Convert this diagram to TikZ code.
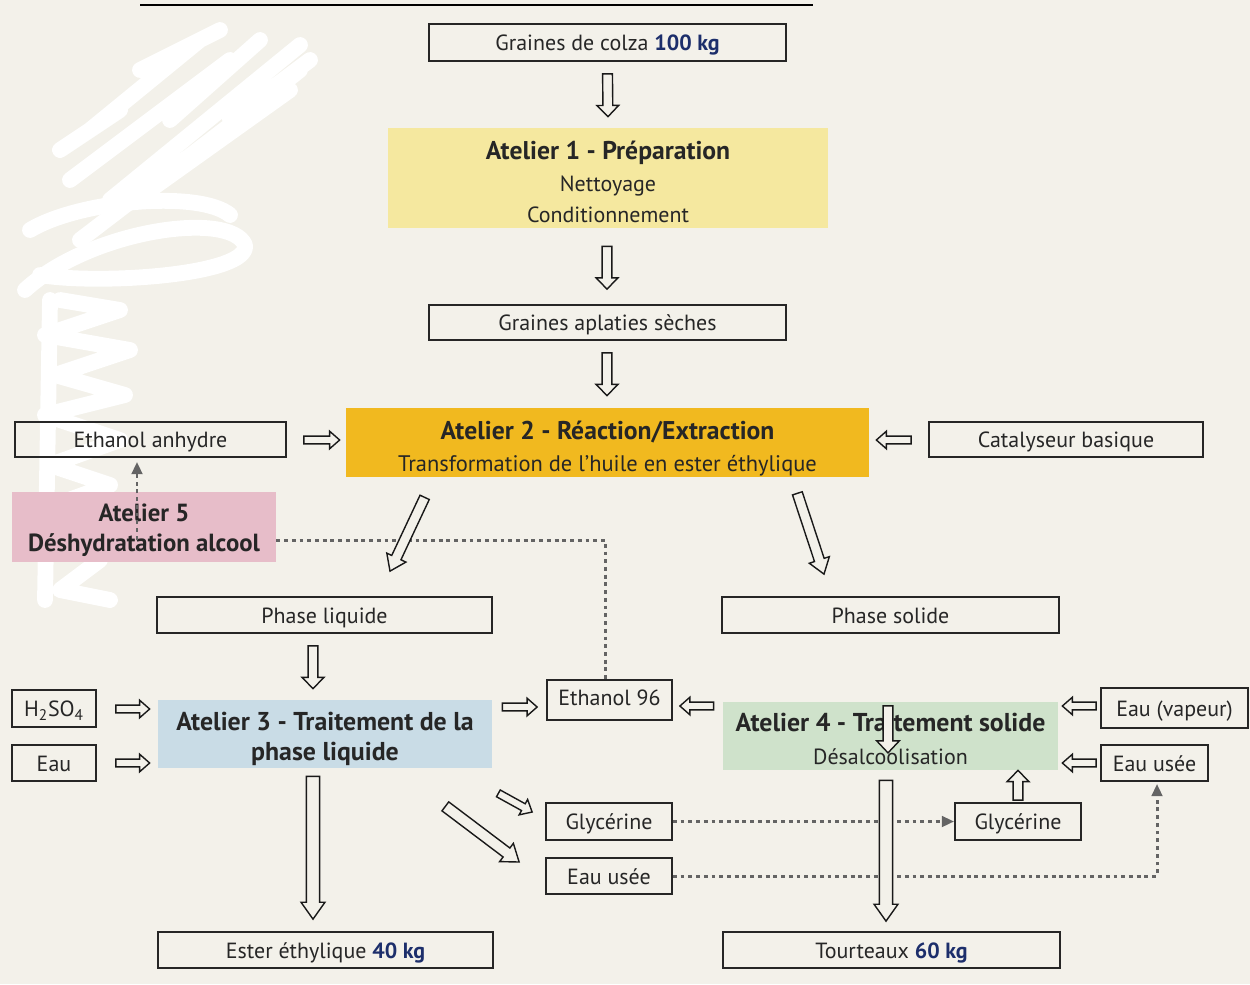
\documentclass[tikz,border=0pt]{standalone}
\usepackage{fontspec}
\setmainfont{PT Sans}
\usetikzlibrary{calc,arrows.meta}
\definecolor{bg}{HTML}{F3F1EA}
\definecolor{aun}{HTML}{F5E89F}
\definecolor{adeux}{HTML}{F1B91F}
\definecolor{atrois}{HTML}{C9DCE6}
\definecolor{aquatre}{HTML}{CFE2CB}
\definecolor{acinq}{HTML}{E7BDC9}
\definecolor{kgblue}{HTML}{1C2E6B}
\definecolor{dotcol}{HTML}{646464}
\def\pu{0.02cm}
\tikzset{
  box/.style={draw=black!85, line width=1pt, inner sep=0pt, text=black!85,
    font=\fontsize{12.5}{14}\selectfont, text height=0.95em, text depth=0pt},
  atel/.style={inner sep=0pt},
  ateltext/.style={inner sep=0pt, align=center, text=black!85},
  hollow/.style={draw=black!90, line width=0.8pt, fill=bg, line join=miter},
  dotl/.style={draw=dotcol, line width=1.7pt, dash pattern=on 2.2pt off 2.2pt},
  dotarr/.style={dotl, -{Triangle[length=7pt,width=6pt]}},
  scrib/.style={draw=white, line width=9pt, line cap=round, line join=round}
}
% hollow block arrow: from, to, shaft half width, head half width, head length
\newcommand\harr[5]{%
  \path #1 coordinate (hA);
  \path #2 coordinate (hB);
  \path ($(hB)!#5!(hA)$) coordinate (hC);
  \draw[hollow] ($(hA)!#3!90:(hB)$) -- ($(hC)!#3!-90:(hA)$) -- ($(hC)!#4!-90:(hA)$)
    -- (hB) -- ($(hC)!#4!90:(hA)$) -- ($(hC)!#3!90:(hA)$) -- ($(hA)!#3!-90:(hB)$) -- cycle;}
\newcommand\kg[1]{\textcolor{kgblue}{\bfseries #1}}
\newcommand\ttl[1]{{\bfseries\fontsize{14.6}{18}\selectfont #1}}
\begin{document}
\begin{tikzpicture}[x=0.02cm,y=-0.02cm]
\fill[bg] (0,0) rectangle (1250,984);
\useasboundingbox (0,0) rectangle (1250,984);
% white scribble on the left
\draw[scrib] (90,130) -- (200,40) (70,180) -- (230,60) (110,200) -- (300,45) (150,190) -- (290,90)
  (200,150) -- (300,70) (140,70) -- (220,30) (80,240) -- (250,110) (60,150) -- (120,110)
  (170,120) -- (260,40) (230,120) -- (310,60);
\draw[scrib] (25,290) .. controls (90,230) and (230,210) .. (245,245) .. controls (250,275) and (100,285) .. (40,275);
\draw[scrib] (30,230) .. controls (80,200) and (200,190) .. (230,215);
\draw[scrib] (60,300) -- (120,310) -- (45,335) -- (130,350) -- (55,375) -- (125,395) -- (45,415)
  -- (120,440) -- (50,465) -- (110,485) -- (55,505) -- (100,560) -- (60,590) -- (110,600);
\draw[scrib] (50,300) -- (45,600);
% cut-off heading underline
\draw[line width=1.2pt] (140,5) -- (813,5);

% ---------- nodes ----------
\node[box, minimum width=357*\pu, minimum height=37*\pu] (g1) at (607.5,42.5) {Graines de colza \kg{100 kg}};
\node[atel, fill=aun, minimum width=440*\pu, minimum height=100*\pu] (a1) at (608,178) {};
\node[ateltext, font=\fontsize{12.5}{18}\selectfont] (a1t) at (608,182)
  {\ttl{Atelier 1 - Préparation}\\Nettoyage\\Conditionnement};
\node[box, minimum width=357*\pu, minimum height=35*\pu] (g2) at (607.5,322.5) {Graines aplaties sèches};
\node[atel, fill=adeux, minimum width=523*\pu, minimum height=69*\pu] (a2) at (607.5,442.5) {};
\node[ateltext, font=\fontsize{12.8}{18.5}\selectfont] (a2t) at (607.5,448.5)
  {\ttl{Atelier 2 - Réaction/Extraction}\\Transformation de l’huile en ester éthylique};
\node[box, minimum width=271*\pu, minimum height=35*\pu] (ea) at (150.5,439.5) {Ethanol anhydre};
\node[box, minimum width=274*\pu, minimum height=35*\pu] (cb) at (1066,439.5) {Catalyseur basique};
\node[atel, fill=acinq, minimum width=264*\pu, minimum height=70*\pu] (a5) at (144,527) {};
\node[ateltext, font=\bfseries\fontsize{14.1}{17}\selectfont] (a5t) at (144,530.5) {Atelier 5\\Déshydratation alcool};
\node[box, minimum width=335*\pu, minimum height=36*\pu] (pl) at (324.5,615) {Phase liquide};
\node[box, minimum width=337*\pu, minimum height=36*\pu] (ps) at (890.5,615) {Phase solide};
\node[box, minimum width=84*\pu, minimum height=37*\pu] (h2) at (54,708.5) {H\textsubscript{2}SO\textsubscript{4}};
\node[box, minimum width=84*\pu, minimum height=36*\pu] (eau) at (54,763) {Eau};
\node[atel, fill=atrois, minimum width=334*\pu, minimum height=68*\pu] (a3) at (325,734) {};
\node[ateltext, font=\bfseries\fontsize{14.7}{17}\selectfont] (a3t) at (325,739) {Atelier 3 - Traitement de la\\phase liquide};
\node[box, minimum width=125*\pu, minimum height=40*\pu, text height=0.6em] (e96) at (609.5,700) {Ethanol 96};
\node[atel, fill=aquatre, minimum width=335*\pu, minimum height=68*\pu] (a4) at (890.5,736) {};
\node[ateltext, font=\fontsize{12.5}{19}\selectfont] (a4t) at (890.5,739)
  {{\bfseries\fontsize{14.7}{19}\selectfont Atelier 4 - Traitement solide}\\Désalcoolisation};
\node[box, minimum width=147*\pu, minimum height=40*\pu] (ev) at (1174.5,708) {Eau (vapeur)};
\node[box, minimum width=107*\pu, minimum height=36*\pu] (eu2) at (1154.5,763) {Eau usée};
\node[box, minimum width=126*\pu, minimum height=37*\pu] (gl2) at (1018,821.5) {Glycérine};
\node[box, minimum width=126*\pu, minimum height=37*\pu] (gl1) at (609,821.5) {Glycérine};
\node[box, minimum width=126*\pu, minimum height=36*\pu] (eu1) at (609,876) {Eau usée};
\node[box, minimum width=335*\pu, minimum height=36*\pu] (est) at (325.5,950) {Ester éthylique \kg{40 kg}};
\node[box, minimum width=337*\pu, minimum height=36*\pu] (tou) at (891.5,950) {Tourteaux \kg{60 kg}};

% ---------- dotted connectors ----------
\draw[dotarr] ($(a5.north)+(-7,48)$) -- ($(ea.south)+(-13.5,4)$);
\draw[dotl] ($(a5.east)+(0,13)$) -| ($(e96.north)+(-4.5,0)$);
\draw[dotarr] (gl1.east) -- (gl2.west);
\draw[dotarr] (eu1.east) -| ($(eu2.south)+(2.5,2)$);

% ---------- hollow arrows ----------
\harr{($(g1.south)+(0,12)$)}{($(a1.north)+(0,-11)$)}{2.8pt}{6.2pt}{6.4pt}
\harr{($(a1.south)+(-1,18)$)}{($(g2.north)+(-0.5,-15)$)}{2.8pt}{6.2pt}{6.4pt}
\harr{($(g2.south)+(-0.5,12)$)}{($(a2.north)+(-0.5,-12)$)}{2.8pt}{6.2pt}{6.4pt}
\harr{($(ea.east)+(17,0.5)$)}{($(a2.west)+(-6,-2.5)$)}{2.2pt}{5pt}{5.7pt}
\harr{($(cb.west)+(-17,0.5)$)}{($(a2.east)+(7,-2.5)$)}{2.2pt}{5pt}{5.7pt}
\harr{($(a2.south west)+(79,20)$)}{($(pl.north)+(65.5,-25)$)}{2.9pt}{6pt}{8.5pt}
\harr{($(a2.south east)+(-72,16)$)}{($(ps.north)+(-66.5,-22)$)}{2.9pt}{6pt}{8.5pt}
\harr{($(pl.south)+(-11.5,12)$)}{($(a3.north)+(-12,-11)$)}{2.8pt}{6.2pt}{6.4pt}
\harr{($(h2.east)+(19,0.5)$)}{($(a3.west)+(-8,-25)$)}{2.2pt}{5pt}{5.7pt}
\harr{($(eau.east)+(19,0)$)}{($(a3.west)+(-8,29)$)}{2.2pt}{5pt}{5.7pt}
\harr{($(a3.east)+(10,-27)$)}{($(e96.west)+(-9,7)$)}{2.2pt}{5pt}{5.7pt}
\harr{($(a4.west)+(-9,-30)$)}{($(e96.east)+(7,6)$)}{2.2pt}{5pt}{5.7pt}
\harr{($(ev.west)+(-4,-2)$)}{($(a4.east)+(4,-30)$)}{2.2pt}{5pt}{5.7pt}
\harr{($(eu2.west)+(-4,0)$)}{($(a4.east)+(4,27)$)}{2.2pt}{5pt}{5.7pt}
\harr{($(ps.south)+(-2.5,72)$)}{($(ps.south)+(-2.5,119)$)}{2.8pt}{6.4pt}{6.8pt}
\harr{($(gl2.north)+(0,-2)$)}{($(a4.south)+(127.5,0)$)}{2.8pt}{6.2pt}{6.4pt}
\harr{($(a3.south)+(-12,8)$)}{($(est.north)+(-12.5,-12)$)}{3.8pt}{6.8pt}{9.6pt}
\harr{($(a4.south)+(-4.5,10)$)}{($(tou.north)+(-5.5,-10)$)}{3.8pt}{6.8pt}{9.6pt}
\harr{($(a3.south east)+(6,25)$)}{($(gl1.west)+(-13,-9.5)$)}{2.2pt}{5pt}{5.7pt}
\harr{($(a3.south east)+(-47,38)$)}{($(eu1.west)+(-26,-14)$)}{3.2pt}{6.5pt}{9pt}
\end{tikzpicture}
\end{document}
